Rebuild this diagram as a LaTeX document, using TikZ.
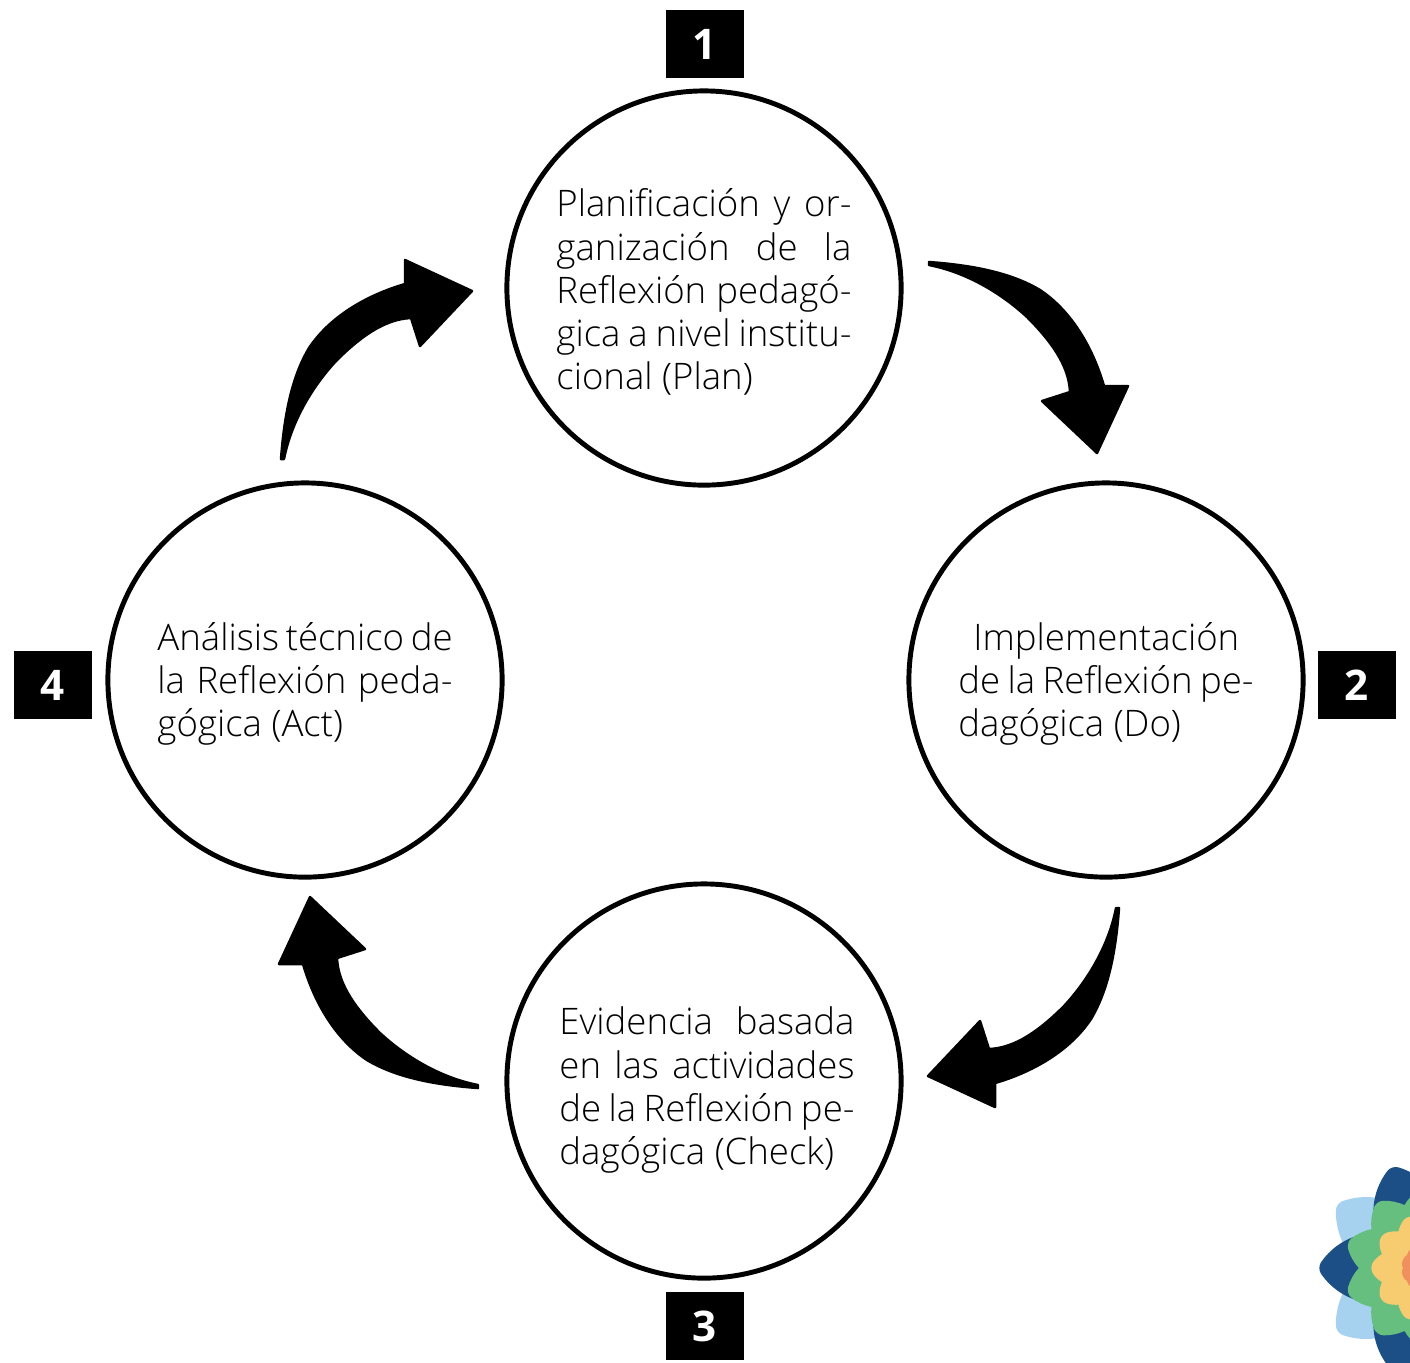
\documentclass[tikz,border=0pt]{standalone}
\usepackage{fontspec}
\setmainfont{Open Sans Light}
\newfontfamily\numfont{Open Sans}
\usetikzlibrary{calc}
\definecolor{logonavy}{HTML}{1B4F86}
\definecolor{logosky}{HTML}{A7D2EF}
\definecolor{logogreen}{HTML}{66BE7F}
\definecolor{logoyellow}{HTML}{F7CB70}
\definecolor{logoorange}{HTML}{F0905F}
\tikzset{
stage/.style={circle,draw=black,line width=1.4pt,minimum size=3.94cm,inner sep=0pt,font=\fontsize{10.4pt}{12.25pt}\selectfont},
numbox/.style={fill=black,text=white,minimum width=0.78cm,minimum height=0.68cm,inner sep=0pt,font=\numfont\bfseries\fontsize{12pt}{12pt}\selectfont},
}
\newcommand{\stagetext}[2]{\parbox{2.95cm}{\vspace*{#1}#2}}
\newcommand{\cyclearrow}[4]{
\begin{scope}[shift={(#2,#3)},rotate=#4]
\coordinate (#1tail) at (0,0);
\coordinate (#1tip) at (168,191);
\filldraw[line width=0.7pt,line join=round] (#1tail) .. controls (41,3) and (81,10) .. (111,28)
.. controls (141,48) and (163,83) .. (175,124) -- (199,124) -- (#1tip) -- (113,139) -- (141,130)
.. controls (140,103) and (121,78) .. (98,55) .. controls (71,30) and (36,10) .. (0,3) -- cycle;
\end{scope}
}
\newcommand{\logopetal}[3]{
\fill[#3,rounded corners=2pt,rotate=#1] (0,0) .. controls ({0.3*#2},{-0.45*#2}) and ({0.75*#2},{-0.36*#2}) .. (#2,0)
.. controls ({0.75*#2},{0.36*#2}) and ({0.3*#2},{0.45*#2}) .. cycle;
}
\begin{document}
\begin{tikzpicture}[x=0.01cm,y=-0.01cm]
\useasboundingbox (0,0) rectangle (1410,1362);
% logo
\begin{scope}
\clip (1300,1140) rectangle (1410,1362);
\begin{scope}[shift={(1425,1268)}]
\foreach \ang in {0,72,...,288}{\logopetal{\ang}{110}{logosky}}
\foreach \ang in {36,108,...,324}{\logopetal{\ang}{108}{logonavy}}
\foreach \ang in {18,54,...,342}{\logopetal{\ang}{83}{logogreen}}
\foreach \ang in {0,36,...,324}{\logopetal{\ang}{56}{logoyellow}}
\foreach \ang in {18,54,...,342}{\logopetal{\ang}{26}{logoorange}}
\end{scope}
\end{scope}
% stages
\node[stage] (plan) at (704,288) {\stagetext{0.08cm}{Planificación y or-\linebreak ganización de la\linebreak Reflexión pedagó-\linebreak gica a nivel institu-\linebreak cional (Plan)}};
\node[stage] (do) at (1106,680) {\stagetext{0.08cm}{\hspace*{0.15cm}Implementación\linebreak de la Reflexión pe-\linebreak dagógica (Do)}};
\node[stage] (check) at (704,1081) {\hspace*{0.06cm}\stagetext{0.18cm}{Evidencia basada\linebreak en las actividades\linebreak de la Reflexión pe-\linebreak dagógica (Check)}};
\node[stage] (act) at (305,680) {\stagetext{0.08cm}{Análisis técnico de\linebreak la Reflexión peda-\linebreak gógica (Act)}};
% numbers
\node[numbox] (n1) at (705,44) {1};
\node[numbox] (n2) at (1357,685) {2};
\node[numbox] (n3) at (705,1326) {3};
\node[numbox] (n4) at (53,685) {4};
% arrows
\cyclearrow{ptd}{929}{262}{0}
\cyclearrow{dtc}{1119}{908}{-90}
\cyclearrow{cta}{478}{1088}{180}
\cyclearrow{atp}{281}{459}{90}
\end{tikzpicture}
\end{document}
